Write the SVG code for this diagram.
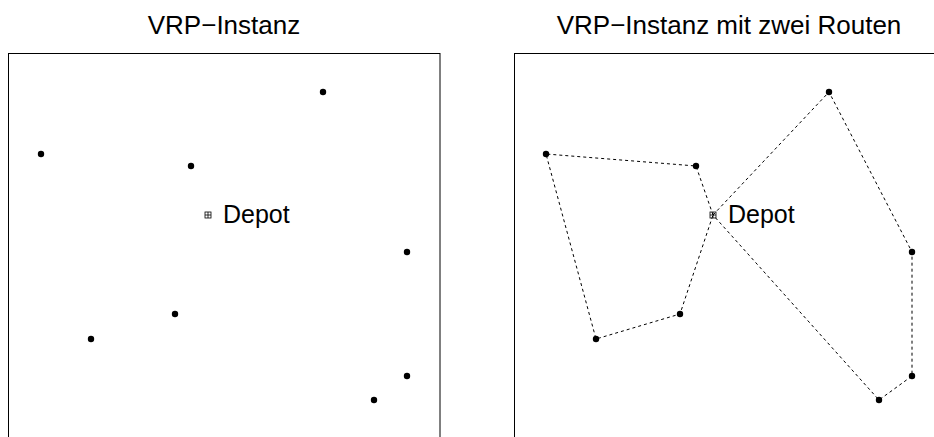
<svg xmlns="http://www.w3.org/2000/svg" width="934" height="437" viewBox="0 0 934 437">
  <style>
    .title { font-family: "Liberation Sans", Arial, sans-serif; font-size: 26px; fill: #000; text-anchor: middle; }
    .lbl { font-family: "Liberation Sans", Arial, sans-serif; font-size: 25px; fill: #000; }
    .frame { fill: none; stroke: #000; stroke-width: 1; }
    .pt { fill: #000; }
    .route { fill: none; stroke: #000; stroke-width: 1; stroke-dasharray: 3 3; }
    .depot { fill: none; stroke: #000; stroke-width: 0.8; }
  </style>
  <defs>
    <g id="depotMark">
      <rect class="depot" x="-3" y="-3" width="6" height="6"/>
      <path class="depot" d="M-3 0H3M0 -3V3"/>
    </g>
  </defs>
  <rect width="934" height="437" fill="#fff"/>

  <!-- left panel: instance only -->
  <text class="title" x="224" y="34">VRP−Instanz</text>
  <rect class="frame" x="8.5" y="53.5" width="431.5" height="400"/>
  <g id="left-nodes">
    <g id="l-depot"><use href="#depotMark" x="208" y="215"/><text class="lbl" x="223" y="223">Depot</text></g>
    <g id="l-n1"><circle class="pt" cx="323" cy="92" r="3.2"/></g>
    <g id="l-n2"><circle class="pt" cx="41" cy="154" r="3.2"/></g>
    <g id="l-n3"><circle class="pt" cx="191" cy="166" r="3.2"/></g>
    <g id="l-n4"><circle class="pt" cx="407" cy="252" r="3.2"/></g>
    <g id="l-n5"><circle class="pt" cx="175" cy="314" r="3.2"/></g>
    <g id="l-n6"><circle class="pt" cx="91" cy="339" r="3.2"/></g>
    <g id="l-n7"><circle class="pt" cx="407" cy="376" r="3.2"/></g>
    <g id="l-n8"><circle class="pt" cx="374" cy="400" r="3.2"/></g>
  </g>

  <!-- right panel: instance with two routes -->
  <text class="title" x="729" y="34">VRP−Instanz mit zwei Routen</text>
  <rect class="frame" x="514.5" y="53.5" width="431.5" height="400"/>
  <g id="connectors">
    <polyline class="route" points="713,215 696,166 546,154 596,339 680,314 713,215"/>
    <polyline class="route" points="713,215 829,92 912,252 912,376 879,400 713,215"/>
  </g>
  <g id="right-nodes">
    <g id="r-depot"><use href="#depotMark" x="713" y="215"/><text class="lbl" x="728" y="223">Depot</text></g>
    <g id="r-n1"><circle class="pt" cx="829" cy="92" r="3.2"/></g>
    <g id="r-n2"><circle class="pt" cx="546" cy="154" r="3.2"/></g>
    <g id="r-n3"><circle class="pt" cx="696" cy="166" r="3.2"/></g>
    <g id="r-n4"><circle class="pt" cx="912" cy="252" r="3.2"/></g>
    <g id="r-n5"><circle class="pt" cx="680" cy="314" r="3.2"/></g>
    <g id="r-n6"><circle class="pt" cx="596" cy="339" r="3.2"/></g>
    <g id="r-n7"><circle class="pt" cx="912" cy="376" r="3.2"/></g>
    <g id="r-n8"><circle class="pt" cx="879" cy="400" r="3.2"/></g>
  </g>
</svg>
